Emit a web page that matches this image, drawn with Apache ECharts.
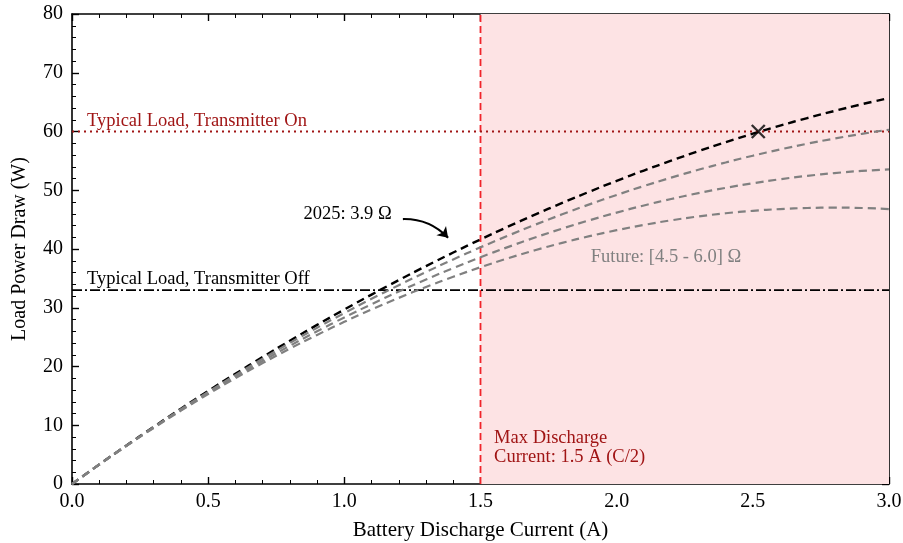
<!DOCTYPE html>
<html><head><meta charset="utf-8">
<script src="https://cdn.jsdelivr.net/npm/echarts@6/dist/echarts.min.js"></script>
<style>html,body{margin:0;padding:0;background:#fff}#c{width:903px;height:543px}</style>
</head><body><div id="c"></div>
<script>
const current = [0,0.1,0.2,0.3,0.4,0.5,0.6,0.7,0.8,0.9,1.0,1.1,1.2,1.3,1.4,1.5,1.6,1.7,1.8,1.9,2.0,2.1,2.2,2.3,2.4,2.5,2.6,2.7,2.8,2.9,3.0];
const p2025 = [0,3.32,6.56,9.73,12.82,15.83,18.76,21.61,24.38,27.08,29.70,32.24,34.70,37.09,39.40,41.63,43.78,45.85,47.84,49.76,51.60,53.36,55.04,56.65,58.18,59.63,61.00,62.29,63.50,64.64,65.70];
const pFutureA = [0,3.32,6.54,9.68,12.72,15.68,18.54,21.32,24.00,26.60,29.10,31.52,33.84,36.08,38.22,40.28,42.24,44.12,45.90,47.60,49.20,50.72,52.14,53.48,54.72,55.88,56.94,57.92,58.80,59.60,60.30];
const pFutureB = [0,3.31,6.51,9.61,12.60,15.49,18.27,20.95,23.52,25.99,28.35,30.61,32.76,34.81,36.75,38.59,40.32,41.95,43.47,44.89,46.20,47.41,48.51,49.51,50.40,51.19,51.87,52.45,52.92,53.29,53.55];
const pFutureC = [0,3.30,6.48,9.54,12.48,15.30,18.00,20.58,23.04,25.38,27.60,29.70,31.68,33.54,35.28,36.90,38.40,39.78,41.04,42.18,43.20,44.10,44.88,45.54,46.08,46.50,46.80,46.98,47.04,46.98,46.80];
const loadOn = 60, loadOff = 33, maxDischarge = 1.5;
const crossPoint = [2.52, 60];
const arrowFrom = [1.215, 45.1], arrowTo = [1.381, 41.9];

const FONT = '"Liberation Serif","Times New Roman",serif';
const pts = a => current.map((x,i)=>[x,a[i]]);
const chart = echarts.init(document.getElementById('c'));
const axBase = {
  min: 0, axisLine:{show:true,onZero:false,lineStyle:{color:'#000',width:1.6}},
  axisTick:{show:true,inside:true,length:7,lineStyle:{color:'#000',width:1.4}},
  minorTick:{show:true,splitNumber:5,length:4,lineStyle:{color:'#000',width:1}},
  splitLine:{show:false},
  axisLabel:{fontFamily:FONT,fontSize:20,color:'#000'}
};
const grayDash = {color:'#808080',width:2.2,type:[8,5]};
chart.setOption({
  animation:false,
  grid:{left:72,right:14,top:14,bottom:59,containLabel:false,outerBoundsMode:'none'},
  xAxis:[
    Object.assign({},axBase,{type:'value',max:3,interval:0.5,position:'bottom',
      name:'Battery Discharge Current (A)',nameLocation:'middle',nameGap:36,
      nameTextStyle:{fontFamily:FONT,fontSize:21,color:'#000'},
      axisLabel:Object.assign({},axBase.axisLabel,{margin:8,formatter:v=>v.toFixed(1)})}),
    Object.assign({},axBase,{type:'value',max:3,interval:0.5,position:'top',axisLabel:{show:false}})
  ],
  yAxis:[
    Object.assign({},axBase,{type:'value',max:80,interval:10,position:'left',
      name:'Load Power Draw (W)',nameLocation:'middle',nameGap:42,
      nameTextStyle:{fontFamily:FONT,fontSize:20,color:'#000'},
      axisLabel:Object.assign({},axBase.axisLabel,{margin:9})}),
    Object.assign({},axBase,{type:'value',max:80,interval:10,position:'right',axisLabel:{show:false}})
  ],
  series:[
    {type:'line',data:[],markArea:{silent:true,itemStyle:{color:'#fde3e4'},data:[[{xAxis:maxDischarge},{xAxis:3}]]}},
    {type:'line',data:[[maxDischarge,0],[maxDischarge,80]],symbol:'none',lineStyle:{color:'#f0242a',width:1.8,type:[7,4]},z:3},
    {type:'line',data:[[0,loadOn],[3,loadOn]],symbol:'none',lineStyle:{color:'#a01515',width:2,type:[2,4]}},
    {type:'line',data:[[0,loadOff],[3,loadOff]],symbol:'none',lineStyle:{color:'#000',width:1.6,type:[10,3,2,3]}},
    {type:'line',data:pts(p2025),symbol:'none',smooth:true,lineStyle:{color:'#000',width:2.4,type:[8,5]},z:2},
    {type:'line',data:pts(pFutureC),symbol:'none',smooth:true,lineStyle:grayDash,z:3},
    {type:'line',data:pts(pFutureB),symbol:'none',smooth:true,lineStyle:grayDash,z:3},
    {type:'line',data:pts(pFutureA),symbol:'none',smooth:true,lineStyle:grayDash,z:3},
    {type:'scatter',data:[crossPoint],symbol:'path://M0,0L10,10M10,0L0,10',symbolSize:13,
      itemStyle:{color:'none',borderColor:'#000',borderWidth:2.4},z:5},
    {type:'lines',coordinateSystem:'cartesian2d',polyline:false,symbol:['none','arrow'],symbolSize:10,
      lineStyle:{color:'#000',width:2.2,opacity:1,curveness:0.22},
      data:[{coords:[arrowFrom,arrowTo]}],z:5}
  ]
});
function px(x,y){return chart.convertToPixel({xAxisIndex:0,yAxisIndex:0},[x,y]);}
function t(d,text,color,va,dy,extra){
  const p = px(d[0],d[1]);
  return {type:'text',x:p[0],y:p[1]+(dy||0),z:10,
    style:Object.assign({text:text,fill:color,font:'18.5px '+FONT,textVerticalAlign:va},extra||{})};
}
chart.setOption({graphic:[
  t([0.055,loadOn],'Typical Load, Transmitter On','#a01515','bottom',-1),
  t([0.055,loadOff],'Typical Load, Transmitter Off','#000','bottom',-1),
  t([0.85,46.0],'2025: 3.9 Ω','#000','middle',0),
  t([1.905,38.6],'Future: [4.5 - 6.0] Ω','#808080','middle',0),
  t([1.55,9.5],'Max Discharge\nCurrent: 1.5 A (C/2)','#a01515','top',0,{lineHeight:19})
]});
</script></body></html>
